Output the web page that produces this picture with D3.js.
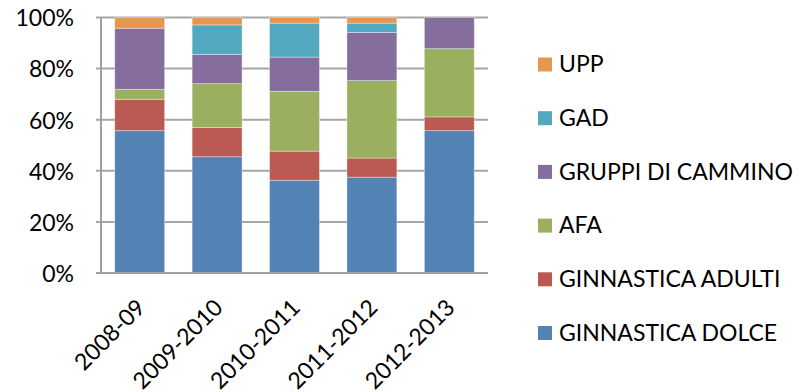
<!DOCTYPE html>
<html>
<head>
<meta charset="utf-8">
<script src="https://cdn.jsdelivr.net/npm/d3@7"></script>
<style>
  html, body { margin: 0; padding: 0; background: #fff; }
  svg { display: block; }
  text { font-family: Lato, "Open Sans", "Liberation Sans", sans-serif; fill: #000; }
</style>
</head>
<body>
<svg id="chart" width="798" height="392"></svg>
<script>
// Seasons on the x axis
const categories = ["2008-09", "2009-2010", "2010-2011", "2011-2012", "2012-2013"];

// Share of participants per activity (percent of each season)
const ginnasticaDolce = [55.7, 45.5, 36.3, 37.5, 55.7];
const ginnasticaAdulti = [12.3, 11.4, 11.4, 7.5, 5.4];
const afa = [3.9, 17.2, 23.4, 30.3, 26.7];
const gruppiDiCammino = [23.9, 11.5, 13.4, 18.8, 12.2];
const gad = [0, 11.5, 13.3, 3.7, 0];
const upp = [4.2, 2.9, 2.2, 2.2, 0];

const yTicks = [0, 20, 40, 60, 80, 100];

// Series in stacking order (bottom to top)
const seriesNames = ["GINNASTICA DOLCE", "GINNASTICA ADULTI", "AFA", "GRUPPI DI CAMMINO", "GAD", "UPP"];
const seriesValues = [ginnasticaDolce, ginnasticaAdulti, afa, gruppiDiCammino, gad, upp];
const seriesColors = ["#5383B5", "#BA5A53", "#9BB05E", "#856D9D", "#51A8BF", "#E6974F"];

const svg = d3.select("#chart");
const plot = { left: 101, right: 488, top: 17.5, bottom: 273 };
const fontSize = 23;

// Build rows for d3.stack, normalised to 100%
const rows = categories.map((c, i) => {
  const row = { category: c };
  let total = 0;
  seriesNames.forEach((s, k) => { row[s] = seriesValues[k][i]; total += seriesValues[k][i]; });
  seriesNames.forEach(s => { row[s] = row[s] / total * 100; });
  return row;
});
const stacked = d3.stack().keys(seriesNames)(rows);

const x = d3.scaleBand().domain(categories).range([plot.left, plot.right]).paddingInner(0.355).paddingOuter(0.1775);
const y = d3.scaleLinear().domain([0, 100]).range([plot.bottom, plot.top]);

// Horizontal gridlines
svg.append("g")
  .selectAll("line")
  .data(yTicks.filter(t => t > 0))
  .join("line")
  .attr("x1", plot.left - 5).attr("x2", plot.right)
  .attr("y1", d => y(d)).attr("y2", d => y(d))
  .attr("stroke", "#A6A6A6").attr("stroke-width", 2);

// Stacked bars
svg.append("g")
  .selectAll("g")
  .data(stacked)
  .join("g")
  .attr("fill", (d, i) => seriesColors[i])
  .selectAll("rect")
  .data(d => d)
  .join("rect")
  .attr("x", d => x(d.data.category))
  .attr("width", x.bandwidth())
  .attr("y", d => y(d[1]))
  .attr("height", d => Math.max(0, y(d[0]) - y(d[1])))
  .attr("stroke", "rgba(255,255,255,0.45)")
  .attr("stroke-width", 0.8);

// Axes lines
svg.append("line")
  .attr("x1", plot.left).attr("x2", plot.left)
  .attr("y1", plot.top).attr("y2", plot.bottom)
  .attr("stroke", "#A0A0A0").attr("stroke-width", 2);
svg.append("line")
  .attr("x1", plot.left - 5).attr("x2", plot.right)
  .attr("y1", plot.bottom).attr("y2", plot.bottom)
  .attr("stroke", "#A0A0A0").attr("stroke-width", 2);

// Y axis labels
svg.append("g")
  .selectAll("text")
  .data(yTicks)
  .join("text")
  .attr("x", 74)
  .attr("y", d => y(d) + 3)
  .attr("text-anchor", "end")
  .attr("dominant-baseline", "middle")
  .attr("font-size", fontSize)
  .text(d => d + "%");

// X axis labels, rotated
svg.append("g")
  .selectAll("text")
  .data(categories)
  .join("text")
  .attr("transform", d => `translate(${x(d) + x.bandwidth() / 2 + 7},${309}) rotate(-45)`)
  .attr("text-anchor", "end")
  .attr("font-size", fontSize)
  .text(d => d);

// Legend (top to bottom: last series first)
const legend = svg.append("g")
  .selectAll("g")
  .data(seriesNames.slice().reverse())
  .join("g")
  .attr("transform", (d, i) => `translate(538,${64.5 + i * 53.7})`);
legend.append("rect")
  .attr("x", 0).attr("y", -7).attr("width", 14).attr("height", 14)
  .attr("fill", d => seriesColors[seriesNames.indexOf(d)]);
legend.append("text")
  .attr("x", 21).attr("y", 2)
  .attr("dominant-baseline", "middle")
  .attr("font-size", fontSize)
  .text(d => d);
</script>
</body>
</html>
